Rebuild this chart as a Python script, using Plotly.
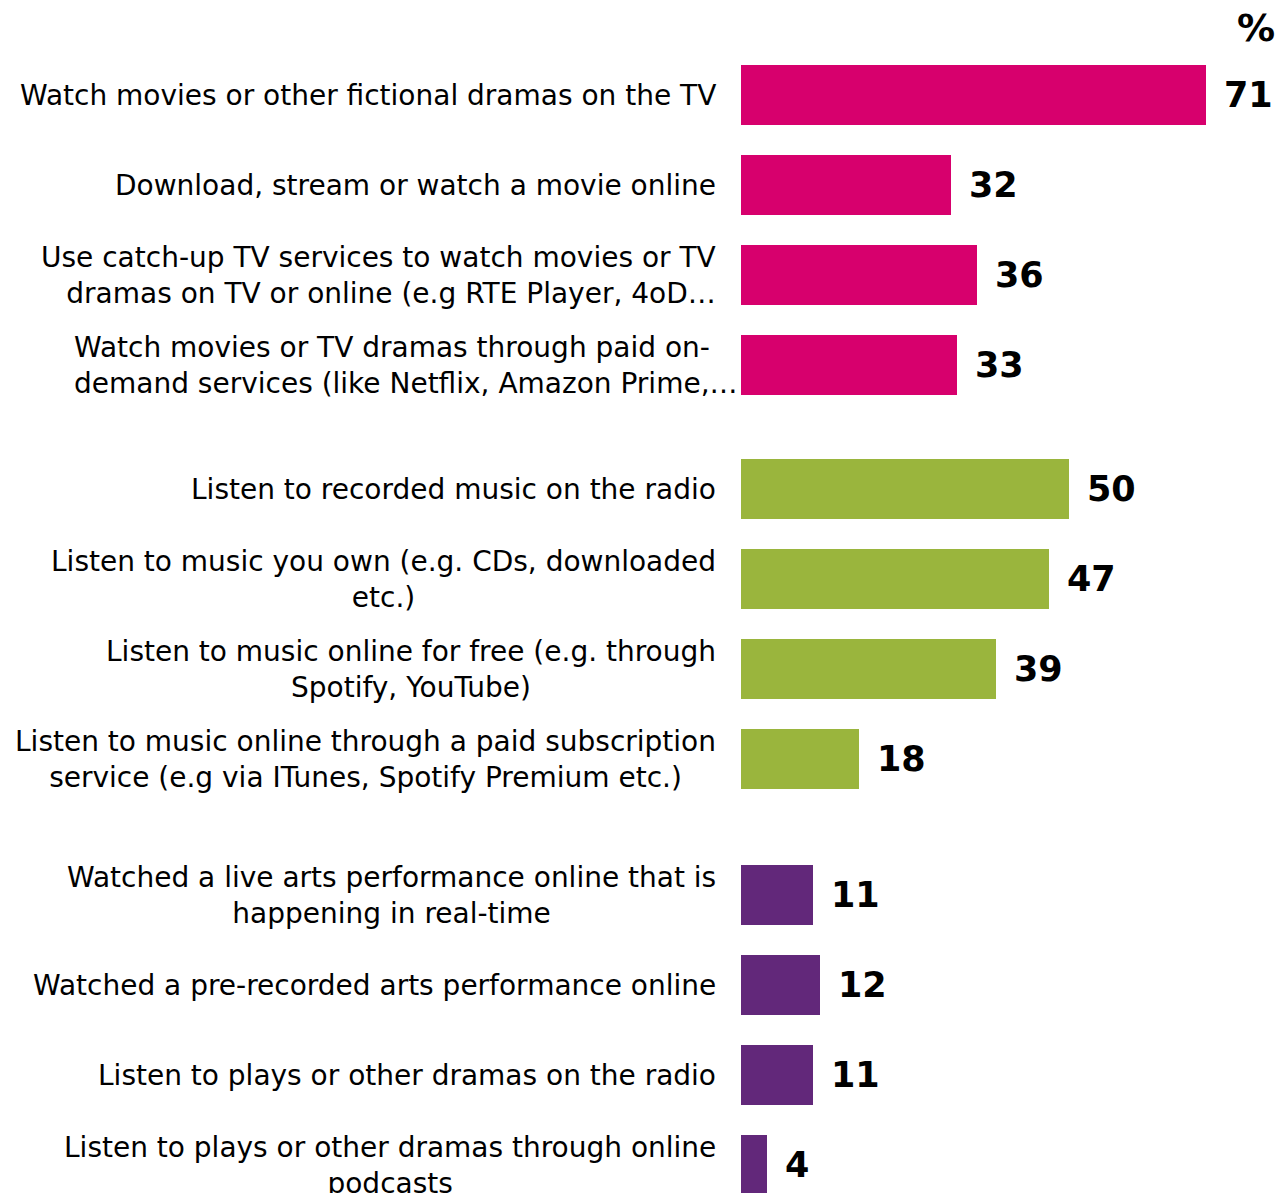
import plotly.graph_objects as go

# Survey responses: share of respondents (%) doing each activity
labels = [
    "Watch movies or other fictional dramas on the TV",
    "Download, stream or watch a movie online",
    "Use catch-up TV services to watch movies or TV<br>dramas on TV or online (e.g RTE Player, 4oD…",
    "Watch movies or TV dramas through paid on-<br>demand services (like Netflix, Amazon Prime,…",
    "Listen to recorded music on the radio",
    "Listen to music you own (e.g. CDs, downloaded<br>etc.)",
    "Listen to music online for free (e.g. through<br>Spotify, YouTube)",
    "Listen to music online through a paid subscription<br>service (e.g via ITunes, Spotify Premium etc.)",
    "Watched a live arts performance online that is<br>happening in real-time",
    "Watched a pre-recorded arts performance online",
    "Listen to plays or other dramas on the radio",
    "Listen to plays or other dramas through online<br>podcasts",
]
values = [71, 32, 36, 33, 50, 47, 39, 18, 11, 12, 11, 4]
groups = [0, 0, 0, 0, 1, 1, 1, 1, 2, 2, 2, 2]

# Styling
GROUP_COLORS = ["#D7006D", "#9AB53D", "#62287A"]
GROUP_GAPS = [0.0, 0.38, 0.51]          # extra space before each group (in row units)
LABEL_ALIGN = {2: "right", 3: "left"}   # wrapped labels that are not centred
LABEL_SHIFT = {3: -1}
FONT = "Verdana, DejaVu Sans, sans-serif"

# Row positions: one row per item plus the gap before each group
positions = []
offset = 0.0
prev = None
for i, g in enumerate(groups):
    if g != prev:
        offset += GROUP_GAPS[g]
        prev = g
    positions.append(i + offset)

colors = [GROUP_COLORS[g] for g in groups]

fig = go.Figure(
    go.Bar(
        x=values,
        y=positions,
        orientation="h",
        width=0.667,
        marker=dict(color=colors, line=dict(width=0)),
        hoverinfo="skip",
    )
)

annotations = []
for i, (lab, val, pos) in enumerate(zip(labels, values, positions)):
    annotations.append(dict(
        x=0, y=pos, xref="paper", yref="y",
        text=lab, showarrow=False,
        xanchor="right", yanchor="middle",
        align=LABEL_ALIGN.get(i, "center"),
        xshift=LABEL_SHIFT.get(i, -23),
        font=dict(family=FONT, size=28, color="#000000"),
    ))
    annotations.append(dict(
        x=val, y=pos, xref="x", yref="y",
        text=f"<b>{val}</b>", showarrow=False,
        xanchor="left", yanchor="middle", xshift=16,
        font=dict(family=FONT, size=35, color="#000000"),
    ))

annotations.append(dict(
    x=1, y=1, xref="paper", yref="paper",
    text="<b>%</b>", showarrow=False,
    xanchor="right", yanchor="top", xshift=12, yshift=-4,
    font=dict(family=FONT, size=38, color="#000000"),
))

fig.update_layout(
    width=1280,
    height=1193,
    margin=dict(l=741, r=15, t=0, b=0),
    paper_bgcolor="white",
    plot_bgcolor="white",
    showlegend=False,
    bargap=0,
    xaxis=dict(range=[0, 80], visible=False, fixedrange=True),
    yaxis=dict(range=[12.2, -1.0556], visible=False, fixedrange=True),
    annotations=annotations,
)

fig.write_html("out.html")
